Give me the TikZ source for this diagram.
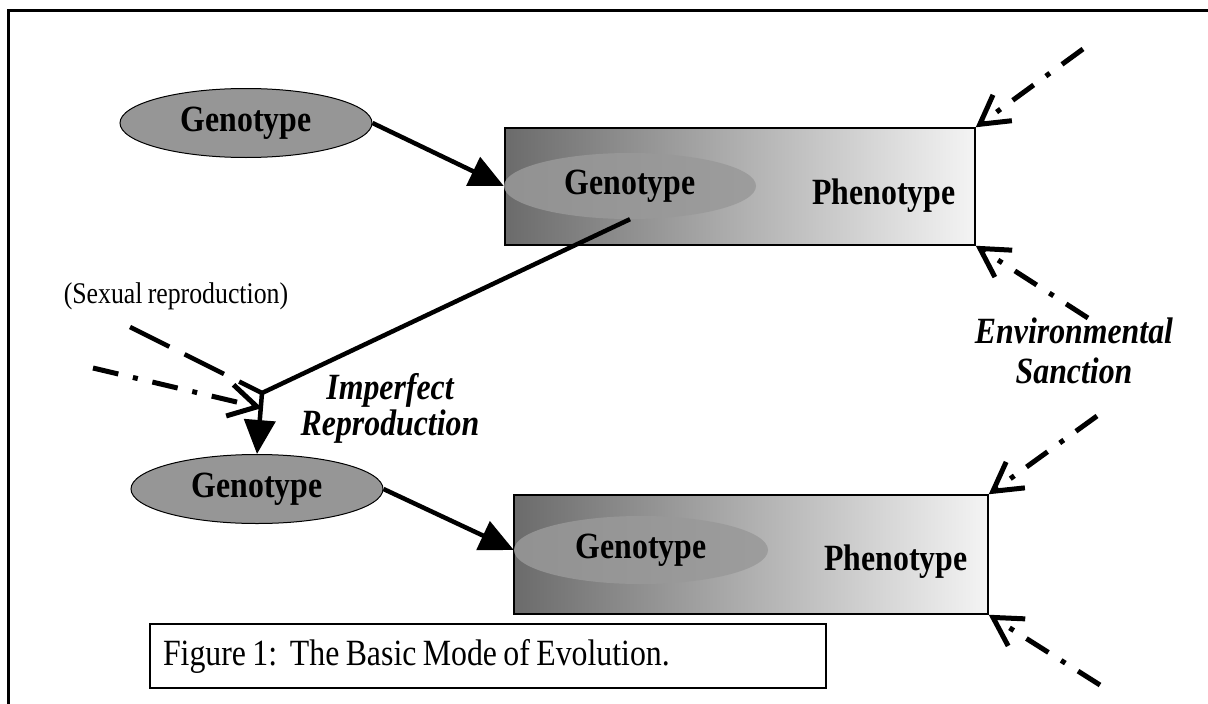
\documentclass[tikz,border=0pt]{standalone}
\usepackage{fontspec}
\setmainfont{Liberation Serif}[FakeStretch=0.86, WordSpace=0.8]
\usetikzlibrary{positioning,arrows.meta,shapes.geometric}
\definecolor{geno}{HTML}{969696}
\definecolor{inner}{HTML}{999999}
\definecolor{dark}{HTML}{6B6B6B}
\definecolor{light}{HTML}{F4F4F4}

\begin{document}
\begin{tikzpicture}[
  x=1pt, y=-1pt,
  gen/.style={ellipse, draw=black, line width=1pt, fill=geno, minimum width=252pt, minimum height=69pt, inner sep=0pt, font=\fontsize{37}{40}\selectfont\bfseries},
  ingen/.style={ellipse, fill=inner, fill opacity=0.85, text opacity=1, minimum width=252pt, minimum height=66pt, inner sep=0pt, font=\fontsize{37}{40}\selectfont\bfseries},
  phen/.style={rectangle, draw=black, line width=1.5pt, left color=dark, right color=light, inner sep=0pt},
  lab/.style={font=\fontsize{37}{40}\selectfont\bfseries},
  note/.style={align=center, font=\fontsize{37}{36}\selectfont\bfseries\itshape},
  arrow/.style={-{Triangle[length=34pt,width=31pt]}, line width=4.5pt},
  link/.style={line width=4.5pt},
  sanction/.style={-{Straight Barb[length=28pt,width=32pt]}, line width=5pt, dash pattern=on 26pt off 15pt on 5pt off 15pt}
]
  \useasboundingbox (0,0) rectangle (1208,704);
  \draw[line width=3pt] (8,704) -- (8,10) -- (1208,10);

  % first generation
  \node[gen] (geno1) at (246,123) {Genotype};
  \node[phen, minimum width=470pt, minimum height=117pt] (pheno1) at (740,186.5) {};
  \node[ingen] (geno1in) at (630,186) {Genotype};
  \node[lab] (phtext1) at (884,196) {Phenotype};

  % second generation
  \node[gen] (geno2) at (257,489) {Genotype};
  \node[phen, minimum width=474pt, minimum height=119pt] (pheno2) at (751,554.5) {};
  \node[ingen, minimum width=254pt, minimum height=68pt] (geno2in) at (641,550) {Genotype};
  \node[lab] (phtext2) at (896,562) {Phenotype};

  % labels
  \node[font=\fontsize{30}{32}\selectfont] (sexual) at (176,296) {(Sexual reproduction)};
  \node[note] (imperfect) at (390,408) {Imperfect\\Reproduction};
  \node[note, font=\fontsize{37}{40}\selectfont\bfseries\itshape] (environ) at (1074,351) {Environmental\\Sanction};
  \node[draw=black, line width=1.5pt, minimum width=676pt, minimum height=64pt, inner sep=0pt, font=\fontsize{37}{40}\selectfont] (caption) at (488,656) {\makebox[650pt][l]{Figure 1:\ \ The Basic Mode of Evolution.}};

  % reproduction path
  \coordinate (join) at (262,393);
  \coordinate (mate) at (262,408);
  \coordinate (sexa) at (130,327);
  \coordinate (sexb) at (93,368);
  \draw[arrow] (geno1.east) -- (geno1in.west);
  \draw[link] (geno1in.south) -- (join);
  \draw[arrow] (join) -- (geno2.north);
  \draw[arrow] (geno2.east) -- (geno2in.west);
  \draw[line width=4.5pt, dash pattern=on 44pt off 17pt] (sexa) -- (join);
  \draw[sanction] (sexb) -- (mate);

  % environment
  \coordinate (env1) at (1083,49);
  \coordinate (env2) at (1088,318);
  \coordinate (env3) at (1097,416);
  \coordinate (env4) at (1100,685);
  \draw[sanction] (env1) -- (pheno1.north east);
  \draw[sanction] (env2) -- (pheno1.south east);
  \draw[sanction] (env3) -- (pheno2.north east);
  \draw[sanction] (env4) -- (pheno2.south east);
\end{tikzpicture}
\end{document}
